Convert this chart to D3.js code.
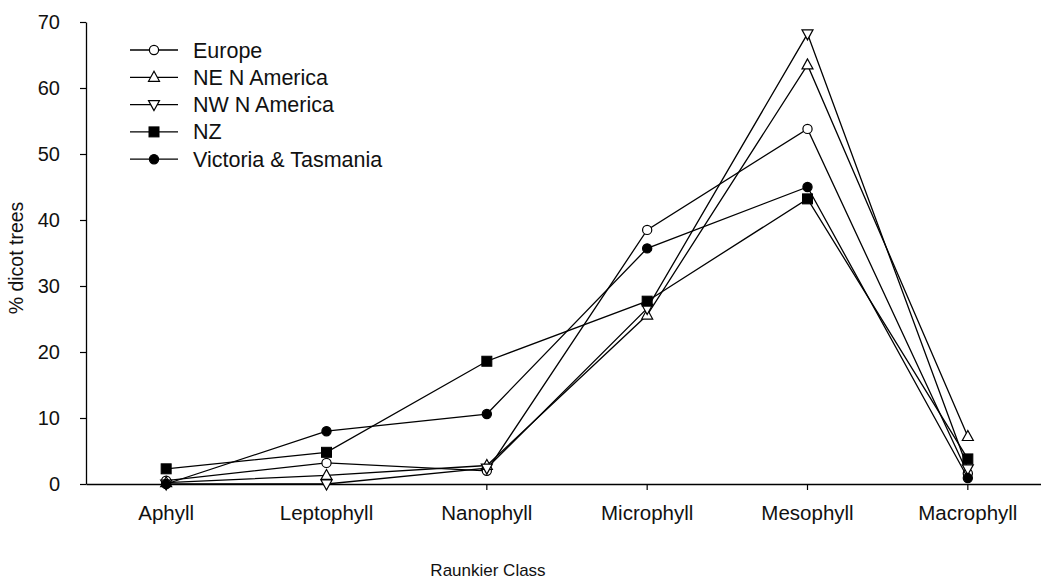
<!DOCTYPE html>
<html>
<head>
<meta charset="utf-8">
<script src="https://cdn.jsdelivr.net/npm/d3@7"></script>
<style>
  body { margin: 0; background: #fff; }
  text { font-family: "Liberation Sans", Arial, sans-serif; fill: #111; }
</style>
</head>
<body>
<div id="chart"></div>
<script>
var classes = ["Aphyll", "Leptophyll", "Nanophyll", "Microphyll", "Mesophyll", "Macrophyll"];
var europe    = [0.5, 3.2, 2.0, 38.5, 53.8, 1.6];
var neAmerica = [0.2, 1.3, 2.8, 25.6, 63.5, 7.2];
var nwAmerica = [0.0, 0.0, 2.4, 26.6, 68.2, 2.3];
var nz        = [2.3, 4.8, 18.6, 27.7, 43.2, 3.8];
var victoria  = [0.0, 8.0, 10.6, 35.7, 45.0, 0.9];
var yTicks = [0, 10, 20, 30, 40, 50, 60, 70];

var series = [
    {name: "Europe", values: europe, symbol: "circle", fill: "#fff"},
    {name: "NE N America", values: neAmerica, symbol: "up", fill: "#fff"},
    {name: "NW N America", values: nwAmerica, symbol: "down", fill: "#fff"},
    {name: "NZ", values: nz, symbol: "square", fill: "#000"},
    {name: "Victoria & Tasmania", values: victoria, symbol: "circle", fill: "#000"}
];

var width = 1041, height = 582;
var svg = d3.select("#chart").append("svg")
    .attr("width", width)
    .attr("height", height);

var x = d3.scaleBand().domain(classes).range([86, 1048]).padding(0);
var y = d3.scaleLinear().domain([0, 70]).range([484, 22]);
var cx = function(d) { return x(d) + x.bandwidth() / 2; };

// axes
var xAxis = svg.append("g")
    .attr("transform", "translate(0,484)")
    .call(d3.axisBottom(x).tickSize(6).tickPadding(15).tickSizeOuter(0));
xAxis.select(".domain").attr("stroke", "#000").attr("stroke-width", 1.3);
xAxis.selectAll("text").style("font-size", "20.5px");

var yAxis = svg.append("g")
    .attr("transform", "translate(86,0)")
    .call(d3.axisLeft(y).tickValues(yTicks).tickSize(6).tickPadding(20).tickSizeOuter(0));
yAxis.select(".domain").attr("stroke", "#000").attr("stroke-width", 1.3);
yAxis.selectAll("text").style("font-size", "20px");
svg.selectAll(".tick line").attr("stroke", "#000").attr("stroke-width", 1.2);

svg.append("text")
    .attr("x", 488).attr("y", 576)
    .attr("text-anchor", "middle")
    .style("font-size", "17px")
    .text("Raunkier Class");

svg.append("text")
    .attr("transform", "translate(23,258) rotate(-90)")
    .attr("text-anchor", "middle")
    .style("font-size", "19.5px")
    .text("% dicot trees");

function drawMarker(g, symbol, fill, px, py) {
    if (symbol == "circle") {
        g.append("circle").attr("cx", px).attr("cy", py).attr("r", 4.6)
            .attr("fill", fill).attr("stroke", "#000").attr("stroke-width", 1.2);
    } else if (symbol == "square") {
        g.append("rect").attr("x", px - 5).attr("y", py - 5).attr("width", 10).attr("height", 10)
            .attr("fill", fill).attr("stroke", "#000").attr("stroke-width", 1);
    } else {
        var s = symbol == "up" ? 1 : -1;
        var pts = [[px, py - 6 * s], [px - 5.5, py + 4 * s], [px + 5.5, py + 4 * s]];
        g.append("polygon").attr("points", pts.map(p => p.join(",")).join(" "))
            .attr("fill", fill).attr("stroke", "#000").attr("stroke-width", 1.2);
    }
}

var line = d3.line()
    .x(function(d, i) { return cx(classes[i]); })
    .y(function(d) { return y(d); });

series.forEach(function(s) {
    var g = svg.append("g");
    g.append("path")
        .attr("d", line(s.values))
        .attr("fill", "none")
        .attr("stroke", "#000")
        .attr("stroke-width", 1.3);
    s.values.forEach(function(v, i) {
        drawMarker(g, s.symbol, s.fill, cx(classes[i]), y(v));
    });
});

// legend
var legend = svg.append("g");
series.forEach(function(s, i) {
    var ly = 50 + i * 27.3;
    legend.append("line")
        .attr("x1", 130).attr("x2", 178).attr("y1", ly).attr("y2", ly)
        .attr("stroke", "#000").attr("stroke-width", 1.3);
    drawMarker(legend, s.symbol, s.fill, 154, ly);
    legend.append("text")
        .attr("x", 193).attr("y", ly + 7.5)
        .style("font-size", "21.5px")
        .text(s.name);
});
</script>
</body>
</html>
